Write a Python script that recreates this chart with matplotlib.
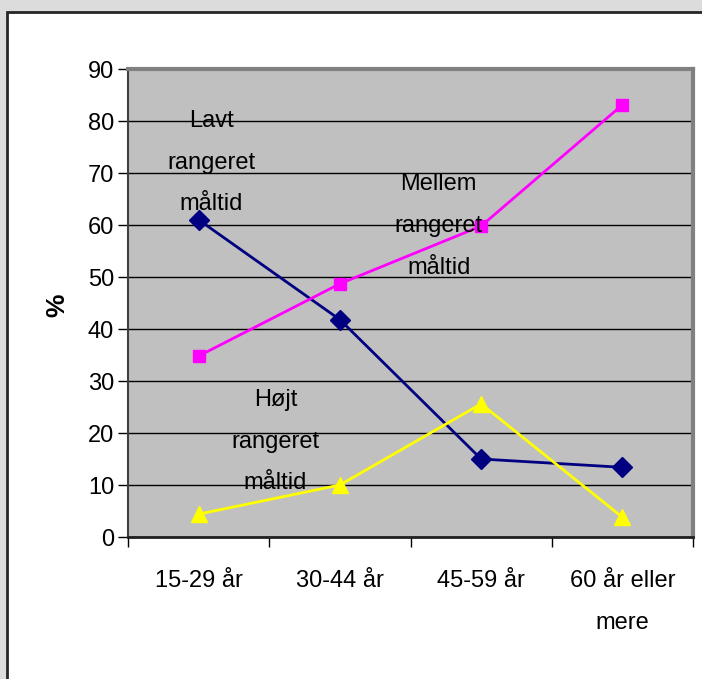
import numpy as np
import matplotlib.pyplot as plt
from matplotlib.patches import Rectangle

plt.rcParams['font.family'] = ['Liberation Sans', 'DejaVu Sans']

# Data
kategorier = ["15-29 år", "30-44 år", "45-59 år", "60 år eller\nmere"]
lavt = [61, 41.8, 15, 13.4]
mellem = [34.8, 48.7, 59.8, 83.1]
hojt = [4.4, 10, 25.6, 3.8]

FS = 17
LS = 2.15
W, H = 702, 679
fig = plt.figure(figsize=(W / 100, H / 100), dpi=100)
fig.patch.set_facecolor('#DCDCDC')

# White chart area with dark border (left/top visible)
fig.patches.append(Rectangle((7 / W, -0.05), 1.1, 1 - 11.5 / H + 0.05,
                             transform=fig.transFigure, facecolor='white',
                             edgecolor='#262626', linewidth=2, zorder=-10))

ax = fig.add_axes([128 / W, 1 - 537 / H, (693 - 128) / W, (537 - 69) / H])
ax.set_zorder(1)
ax.set_facecolor('#C0C0C0')

x = np.arange(len(kategorier))
ax.plot(x, lavt, color='#000080', marker='D', markersize=10, linewidth=2, zorder=3)
ax.plot(x, mellem, color='#FF00FF', marker='s', markersize=9, linewidth=2, zorder=3)
ax.plot(x, hojt, color='#FFFF00', marker='^', markersize=12, linewidth=2, zorder=3)

ax.set_xlim(-0.5, 3.5)
ax.set_ylim(0, 90)
ax.set_yticks(np.arange(0, 91, 10))
ax.yaxis.grid(True, color='black', linewidth=1)
ax.set_axisbelow(True)

ax.set_xticks(np.arange(-0.5, 3.6, 1))
ax.set_xticklabels([])
ax.set_xticks(x, minor=True)
ax.set_xticklabels(kategorier, minor=True, fontsize=FS, linespacing=LS)
ax.tick_params(axis='x', which='minor', length=0, pad=24)
ax.tick_params(axis='x', which='major', length=7, width=1, direction='out')
ax.tick_params(axis='y', length=7, width=1, direction='out', labelsize=FS, pad=3)
for lbl in ax.get_xticklabels(minor=True):
    lbl.set_verticalalignment('top')

for s in ['top', 'right']:
    ax.spines[s].set_color('#808080')
    ax.spines[s].set_linewidth(3)
ax.spines['left'].set_color('#404040')
ax.spines['left'].set_linewidth(1.5)
ax.spines['bottom'].set_color('#202020')
ax.spines['bottom'].set_linewidth(2)

fig.text(57 / W, 1 - 305 / H, '%', rotation=90, fontsize=FS + 2, fontweight='bold',
         ha='center', va='center')

ax.text(0.09, 72, "Lavt\nrangeret\nmåltid", fontsize=FS, ha='center',
        va='center', linespacing=LS, zorder=4)
ax.text(1.7, 59.8, "Mellem\nrangeret\nmåltid", fontsize=FS, ha='center',
        va='center', linespacing=LS, zorder=4)
ax.text(0.543, 18.3, "Højt\nrangeret\nmåltid", fontsize=FS, ha='center',
        va='center', linespacing=LS, zorder=4)

fig.savefig('out.png', dpi=100, facecolor=fig.get_facecolor())
